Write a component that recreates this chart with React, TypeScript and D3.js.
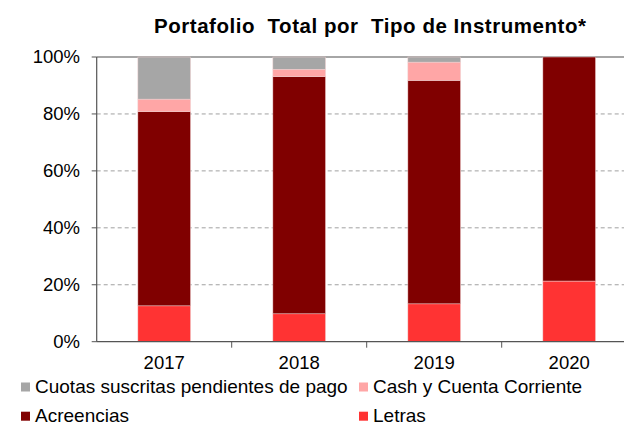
import React from "react";
import * as d3 from "d3";

const years = ["2017", "2018", "2019", "2020"];
const letras = [12.6, 9.8, 13.3, 21.3];
const acreencias = [68.2, 83.3, 78.5, 78.7];
const cash = [4.4, 2.6, 6.4, 0];
const cuotas = [14.8, 4.3, 1.8, 0];
const seriesNames = ["Letras", "Acreencias", "Cash y Cuenta Corriente", "Cuotas suscritas pendientes de pago"];
const seriesColors = ["#FF3333", "#800000", "#FFA6A6", "#A6A6A6"];
const yTicks = [0, 20, 40, 60, 80, 100];
const title = "Portafolio  Total por  Tipo de Instrumento*";

const W = 624, H = 426;
const left = 96.7, right = 636.7, top = 57, bottom = 341.7;

export default function App() {
  const data = years.map((y, i) => ({ year: y, Letras: letras[i], Acreencias: acreencias[i], "Cash y Cuenta Corriente": cash[i], "Cuotas suscritas pendientes de pago": cuotas[i] }));
  const stack = d3.stack<any>().keys(seriesNames)(data);
  const x = d3.scaleBand().domain(years).range([left, right]).paddingInner(0.61).paddingOuter(0.305);
  const y = d3.scaleLinear().domain([0, 100]).range([bottom, top]);
  const font = "'Liberation Sans', Arial, sans-serif";
  const step = (right - left) / years.length;
  const legend = [
    { name: seriesNames[3], color: seriesColors[3], lx: 21, ly: 382.5 },
    { name: seriesNames[2], color: seriesColors[2], lx: 359, ly: 382.5 },
    { name: seriesNames[1], color: seriesColors[1], lx: 21, ly: 411.7 },
    { name: seriesNames[0], color: seriesColors[0], lx: 359, ly: 411.7 },
  ];
  return (
    <svg width={W} height={H} style={{ position: "absolute", left: 0, top: 0, background: "#fff" }} fontFamily={font}>
      <text x={154} y={32.5} textLength={432} lengthAdjust="spacing" fontSize={20.5} fontWeight="bold" fill="#000" style={{ whiteSpace: "pre" }}>{title}</text>
      {yTicks.filter(t => t > 0 && t < 100).map(t => (
        <line key={t} x1={left} x2={right} y1={y(t)} y2={y(t)} stroke="#A0A0A0" strokeDasharray="4,3" strokeWidth={1} />
      ))}
      <line x1={left} x2={right} y1={y(100)} y2={y(100)} stroke="#888" strokeWidth={1.5} />
      {stack.map((s, si) => (
        <g key={s.key}>
          {s.map((d, i) => d[1] - d[0] > 0 ? (
            <rect key={i} x={x(years[i])!} width={x.bandwidth()} y={y(d[1])} height={y(d[0]) - y(d[1])} fill={seriesColors[si]} stroke="#F0D0D0" strokeWidth={0.5} />
          ) : null)}
        </g>
      ))}
      <line x1={left} x2={left} y1={top} y2={bottom} stroke="#555" strokeWidth={1.2} />
      {yTicks.map(t => (
        <g key={t}>
          <line x1={left - 5} x2={left} y1={y(t)} y2={y(t)} stroke="#555" strokeWidth={1} />
          <text x={80} y={y(t)} dy="0.35em" textAnchor="end" fontSize={18.5} fill="#000">{t + "%"}</text>
        </g>
      ))}
      <line x1={left} x2={right} y1={bottom} y2={bottom} stroke="#555" strokeWidth={1.2} />
      {years.map((yr, i) => (
        <g key={yr}>
          <line x1={left + step * (i + 1)} x2={left + step * (i + 1)} y1={bottom} y2={bottom + 6} stroke="#555" strokeWidth={1} />
          <text x={x(yr)! + x.bandwidth() / 2} y={369} textAnchor="middle" fontSize={18.5} fill="#000">{yr}</text>
        </g>
      ))}
      {legend.map(l => (
        <g key={l.name}>
          <rect x={l.lx} y={l.ly} width={9} height={9} fill={l.color} />
          <text x={l.lx + 14} y={l.ly + 10.5} fontSize={19} fill="#000">{l.name}</text>
        </g>
      ))}
    </svg>
  );
}
